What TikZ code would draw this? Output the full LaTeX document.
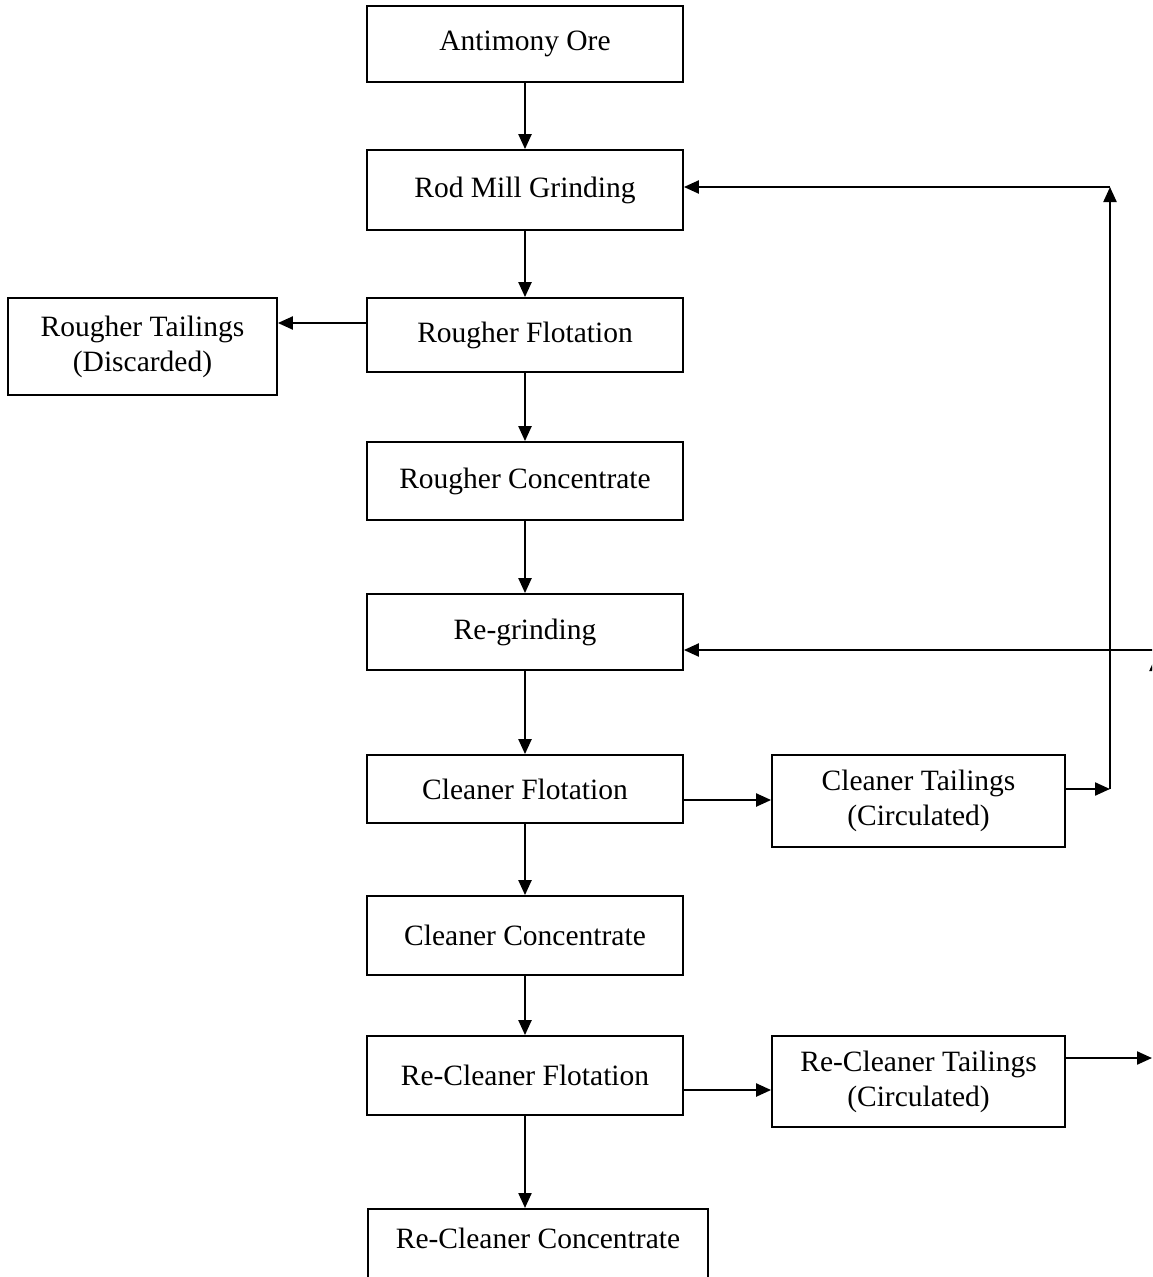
\documentclass[tikz,border=0pt]{standalone}
\usepackage{fontspec}
\setmainfont{Liberation Serif}
\usetikzlibrary{arrows.meta}
\begin{document}
\begin{tikzpicture}[x=1pt,y=-1pt,
  pbox/.style={draw, line width=1.8pt, minimum width=316pt, inner sep=0pt, align=center,
    font=\fontsize{29.5}{35}\selectfont},
  arr/.style={line width=2.2pt, -{Triangle[length=15pt,width=13pt]}},
  ln/.style={line width=2pt}]
\useasboundingbox (0,0) rectangle (1152,1277);
\clip (0,0) rectangle (1152,1277);
\node[pbox, minimum height=76pt] (ore) at (525,44) {Antimony Ore};
\node[pbox, minimum height=80pt] (rod) at (525,190) {Rod Mill Grinding};
\node[pbox, minimum height=74pt] (rf) at (525,335) {Rougher Flotation};
\node[pbox, minimum width=269pt, minimum height=97pt] (rt) at (142.5,346.5) {Rougher Tailings\\(Discarded)};
\node[pbox, minimum height=78pt] (rc) at (525,481) {Rougher Concentrate};
\node[pbox, minimum height=76pt] (rg) at (525,632) {Re-grinding};
\node[pbox, minimum height=68pt] (cf) at (525,789) {Cleaner Flotation};
\node[pbox, minimum width=293pt, minimum height=92pt] (ct) at (918.5,801) {Cleaner Tailings\\(Circulated)};
\node[pbox, minimum height=79pt] (cc) at (525,935.5) {Cleaner Concentrate};
\node[pbox, minimum height=79pt] (rcf) at (525,1075.5) {Re-Cleaner Flotation};
\node[pbox, minimum width=293pt, minimum height=91pt] (rct) at (918.5,1081.5) {Re-Cleaner Tailings\\(Circulated)};
\node[pbox, minimum width=340pt, minimum height=100pt, anchor=north] (rcc) at (538,1208) {};
\node[font=\fontsize{29.5}{35}\selectfont, inner sep=0pt] (rcct) at (538,1238) {Re-Cleaner Concentrate};
% vertical flow
\draw[arr] (ore) -- (rod);
\draw[arr] (rod) -- (rf);
\draw[arr] (rf) -- (rc);
\draw[arr] (rc) -- (rg);
\draw[arr] (rg) -- (cf);
\draw[arr] (cf) -- (cc);
\draw[arr] (cc) -- (rcf);
\draw[arr] (rcf.south) -- (rcf.south |- rcc.north);
% side flows
\draw[arr] ([yshift=12pt]rf.west) -- ([yshift=12pt]rf.west -| rt.east);
\draw[arr] ([yshift=-11pt]cf.east) -- ([yshift=-11pt]cf.east -| ct.west);
\draw[arr] ([yshift=-14.5pt]rcf.east) -- ([yshift=-14.5pt]rcf.east -| rct.west);
% recycle loop
\coordinate (j1) at (1110,789);
\coordinate (j2) at (1110,187);
\draw[arr] (ct.east |- j1) -- (j1);
\draw[arr] (j1) -- (j2);
\draw[arr] (j2) -- (rod.east |- j2);
\coordinate (e1) at (1160,650);
\draw[arr] (e1) -- (rg.east |- e1);
\coordinate (e2) at (1156,700);
\coordinate (e3) at (1156,656);
\draw[arr] (e2) -- (e3);
\coordinate (e4) at (1152,1058);
\draw[arr] (rct.east |- e4) -- (e4);
\end{tikzpicture}
\end{document}
